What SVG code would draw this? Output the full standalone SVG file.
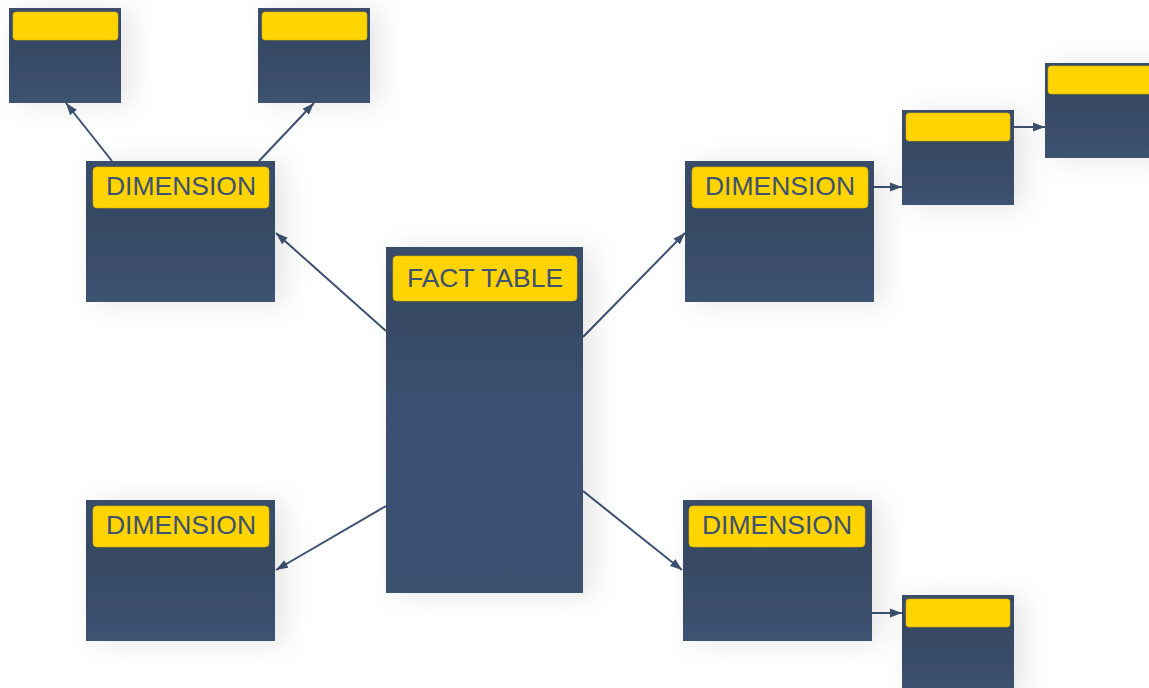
<svg xmlns="http://www.w3.org/2000/svg" width="1149" height="688" viewBox="0 0 1149 688">
  <defs>
    <linearGradient id="bodyFill" x1="0" y1="0" x2="0" y2="1">
      <stop offset="0" stop-color="#3a4d6a"/>
      <stop offset="0.35" stop-color="#364862"/>
      <stop offset="1" stop-color="#3d5271"/>
    </linearGradient>
    <linearGradient id="tallFill" x1="0" y1="0" x2="0" y2="1">
      <stop offset="0" stop-color="#3a4d6a"/>
      <stop offset="0.17" stop-color="#364862"/>
      <stop offset="0.45" stop-color="#3c5070"/>
      <stop offset="1" stop-color="#3d5171"/>
    </linearGradient>
    <filter id="shadow" x="-50%" y="-50%" width="200%" height="200%">
      <feDropShadow dx="10" dy="2" stdDeviation="14" flood-color="#000" flood-opacity="0.1"/>
    </filter>
    <marker id="arrow" viewBox="0 0 12 10" refX="12" refY="5" markerWidth="12" markerHeight="10" markerUnits="userSpaceOnUse" orient="auto">
      <path d="M0,0.6 L12,5 L0,9.4 z" fill="#3d5170"/>
    </marker>
  </defs>
  <style>
    .body { fill: url(#bodyFill); filter: url(#shadow); }
    .tall { fill: url(#tallFill); }
    .head { fill: #ffd400; stroke: #d9b400; stroke-width: 0.6; }
    .label { font-family: "Liberation Sans", Arial, sans-serif; font-size: 26.5px; fill: #3d5170; text-anchor: middle; }
    .link { stroke: #3d5170; stroke-width: 2; fill: none; marker-end: url(#arrow); }
  </style>
  <rect width="1149" height="688" fill="#ffffff"/>

  <g id="connectors">
    <line class="link" x1="112" y1="161" x2="66" y2="103"/>
    <line class="link" x1="259" y1="161" x2="314" y2="103"/>
    <line class="link" x1="386" y1="331" x2="276" y2="233"/>
    <line class="link" x1="583" y1="337" x2="685" y2="233"/>
    <line class="link" x1="386" y1="506" x2="276" y2="570"/>
    <line class="link" x1="583" y1="491" x2="682" y2="570"/>
    <line class="link" x1="874" y1="187" x2="902" y2="187"/>
    <line class="link" x1="1014" y1="127" x2="1045" y2="127"/>
    <line class="link" x1="872" y1="613" x2="902" y2="613"/>
  </g>

  <g id="fact-table">
    <rect class="body tall" x="386" y="247" width="197" height="346"/>
    <rect class="head" x="393" y="256" width="184" height="45" rx="4"/>
    <text class="label" x="485" y="287">FACT TABLE</text>
  </g>

  <g id="dimension-top-left">
    <rect class="body" x="86" y="161" width="189" height="141"/>
    <rect class="head" x="93" y="167" width="176" height="41" rx="4"/>
    <text class="label" x="181" y="195">DIMENSION</text>
  </g>

  <g id="dimension-top-right">
    <rect class="body" x="685" y="161" width="189" height="141"/>
    <rect class="head" x="692" y="167" width="176" height="41" rx="4"/>
    <text class="label" x="780" y="195">DIMENSION</text>
  </g>

  <g id="dimension-bottom-left">
    <rect class="body" x="86" y="500" width="189" height="141"/>
    <rect class="head" x="93" y="506" width="176" height="41" rx="4"/>
    <text class="label" x="181" y="534">DIMENSION</text>
  </g>

  <g id="dimension-bottom-right">
    <rect class="body" x="683" y="500" width="189" height="141"/>
    <rect class="head" x="689" y="506" width="176" height="41" rx="4"/>
    <text class="label" x="777" y="534">DIMENSION</text>
  </g>

  <g id="sub-top-left">
    <rect class="body" x="9" y="8" width="112" height="95"/>
    <rect class="head" x="13" y="12" width="105" height="28" rx="3"/>
  </g>

  <g id="sub-top-middle">
    <rect class="body" x="258" y="8" width="112" height="95"/>
    <rect class="head" x="262" y="12" width="105" height="28" rx="3"/>
  </g>

  <g id="sub-right-1">
    <rect class="body" x="902" y="110" width="112" height="95"/>
    <rect class="head" x="906" y="113" width="104" height="28" rx="3"/>
  </g>

  <g id="sub-right-2">
    <rect class="body" x="1045" y="63" width="112" height="95"/>
    <rect class="head" x="1048" y="66" width="105" height="28" rx="3"/>
  </g>

  <g id="sub-bottom-right">
    <rect class="body" x="902" y="595" width="112" height="100"/>
    <rect class="head" x="906" y="599" width="104" height="28" rx="3"/>
  </g>
</svg>
